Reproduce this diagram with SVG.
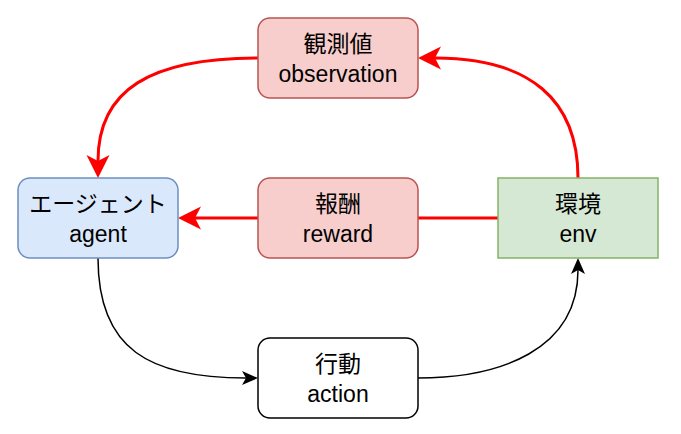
<svg xmlns="http://www.w3.org/2000/svg" width="681" height="434" viewBox="0 0 681 434">
<defs>
<style>
.lbl{font-family:"Liberation Sans","Noto Sans CJK JP",Arial,sans-serif;font-size:23px;fill:#000;text-anchor:middle}
.red{fill:#f8cecc;stroke:#b85450;stroke-width:1.5}
.rline{fill:none;stroke:#ff0000;stroke-width:3}
.bline{fill:none;stroke:#000;stroke-width:1.5}
</style>
<marker id="ra" markerUnits="userSpaceOnUse" viewBox="0 -12 24 24" markerWidth="24" markerHeight="24" refX="6" refY="0" orient="auto">
<path d="M0,-11.5 L23,0 L0,11.5 L6,0 Z" fill="#ff0000"/>
</marker>
<marker id="ba" markerUnits="userSpaceOnUse" viewBox="0 -8 17 16" markerWidth="17" markerHeight="16" refX="4" refY="0" orient="auto">
<path d="M0,-7 L16,0 L0,7 L4,0 Z" fill="#000"/>
</marker>
</defs>
<rect width="681" height="434" fill="#fff"/>
<g id="connectors">
<path class="rline" d="M258,58 C150,58 98,90 98,161" marker-end="url(#ra)"/>
<path class="rline" d="M578,178 C578,100 530,58 435,58" marker-end="url(#ra)"/>
<path class="rline" d="M498,218 L195,218" marker-end="url(#ra)"/>
<path class="bline" d="M98,258 C98,350 150,378 246,378" marker-end="url(#ba)"/>
<path class="bline" d="M418,378 C500,378 578,350 578,270" marker-end="url(#ba)"/>
</g>
<g id="observation">
<rect class="red" x="258" y="18" width="160" height="80" rx="12"/>
<text class="lbl" x="338" y="52">観測値</text>
<text class="lbl" x="338" y="82">observation</text>
</g>
<g id="agent">
<rect x="18" y="178" width="160" height="80" rx="12" fill="#dae8fc" stroke="#6c8ebf" stroke-width="1.5"/>
<text class="lbl" x="98" y="212">エージェント</text>
<text class="lbl" x="98" y="242">agent</text>
</g>
<g id="reward">
<rect class="red" x="258" y="178" width="160" height="80" rx="12"/>
<text class="lbl" x="338" y="212">報酬</text>
<text class="lbl" x="338" y="242">reward</text>
</g>
<g id="env">
<rect x="498" y="178" width="160" height="80" fill="#d5e8d4" stroke="#82b366" stroke-width="1.5"/>
<text class="lbl" x="578" y="212">環境</text>
<text class="lbl" x="578" y="242">env</text>
</g>
<g id="action">
<rect x="258" y="338" width="160" height="80" rx="12" fill="#fff" stroke="#000" stroke-width="1.5"/>
<text class="lbl" x="338" y="372">行動</text>
<text class="lbl" x="338" y="402">action</text>
</g>
</svg>
